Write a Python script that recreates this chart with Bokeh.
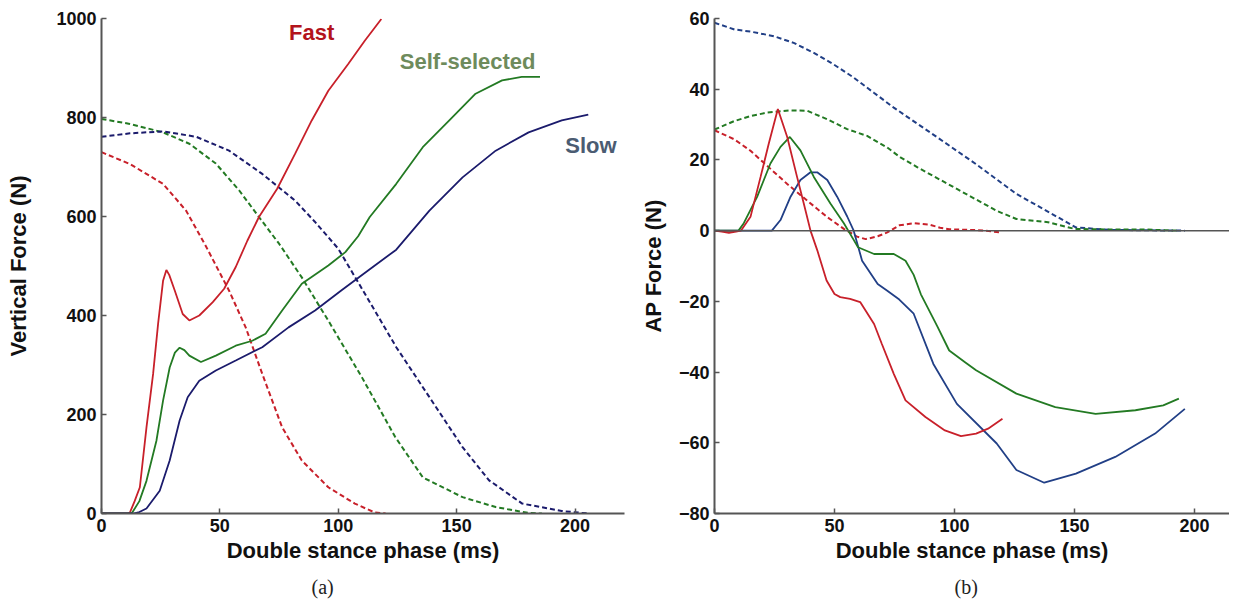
from bokeh.plotting import figure
from bokeh.layouts import row
from bokeh.models import Range1d, Label, Span, FixedTicker, Title
from bokeh.embed import file_html
from bokeh.resources import INLINE

# ---------------- Panel (a): vertical force ----------------
fast_v_t = [0, 11, 12, 14, 16.2, 19, 21.8, 23.9, 26, 27.4, 28.6, 30.9, 34.3, 37.1, 41.3, 47, 51.8, 56.7,
            61.6, 66.5, 74.2, 81.8, 88.8, 95.8, 104.2, 111.2, 118.2]
fast_v_f = [0, 0, 2, 25, 53, 174, 282, 383, 470, 492, 482, 451, 403, 390, 400, 427, 454, 498,
            551, 599, 656, 727, 794, 854, 908, 955, 999]

self_v_t = [0, 12, 13, 16, 19, 23.2, 26, 28.8, 31, 33, 35, 37.1, 42, 48.3, 56.7, 63.7, 69.3, 76.3,
            84.6, 95.8, 103, 108.4, 113.3, 124.5, 135.7, 146.9, 158, 169.2, 177.5, 185.2]
self_v_f = [0, 0, 2, 25, 66, 147, 228, 295, 325, 335, 330, 319, 306, 319, 339, 349, 363, 410,
            464, 501, 528, 560, 599, 666, 740, 794, 848, 875, 882, 882]

slow_v_t = [0, 13.4, 16, 19, 24.6, 28.8, 33, 36.4, 41.3, 48.3, 56.7, 67.9, 79, 90.2, 101.4, 112.6,
            124.5, 138.5, 152.5, 166.5, 180.4, 194.4, 205.6]
slow_v_f = [0, 0, 3, 10, 46, 107, 188, 235, 268, 289, 309, 336, 376, 410, 451, 491,
            533, 612, 679, 733, 770, 794, 806]

fast_v2_t = [0, 12, 26, 35.7, 44.1, 53.9, 60.9, 67.9, 76.3, 84.6, 95.8, 107, 115.4, 120]
fast_v2_f = [730, 706, 666, 612, 540, 450, 376, 282, 174, 107, 53, 20, 2, 0]

self_v2_t = [0, 12, 26, 37.1, 48.3, 58.1, 66.5, 75, 84.6, 96, 110, 124, 135.7, 152.5, 166.5, 180.4, 186]
self_v2_f = [797, 787, 770, 747, 707, 653, 599, 545, 477, 388, 275, 155, 73, 33, 13, 1, 0]

slow_v2_t = [0, 12, 26, 40, 53.9, 67.9, 81.8, 90, 100, 110.5, 124.5, 138.5, 152.5, 163.7, 177.7, 194.4, 205.6]
slow_v2_f = [761, 768, 772, 761, 733, 686, 632, 590, 535, 450, 336, 235, 134, 67, 20, 5, 0]

# ---------------- Panel (b): AP force ----------------
fast_ap_t = [0, 3, 6, 9, 11, 15, 19.2, 22.6, 26.4, 30.3, 34.4, 37.2, 40, 42.8, 46.7, 50, 52.4, 56.5,
             60.7, 66.5, 69.7, 74.7, 79.6, 87.9, 96, 102.7, 109, 114, 120]
fast_ap_f = [0, -0.3, -0.6, -0.3, 0, 3.9, 15.2, 24.6, 34.4, 26.5, 15.2, 7.7, 0, -5.5, -14.1, -17.9, -18.8, -19.3,
             -20.2, -26.4, -32, -40.5, -48, -52.7, -56.5, -58.1, -57.4, -56, -53.2]

self_ap_t = [0, 10, 12.2, 17.8, 23.3, 27.5, 31.4, 35.8, 41.4, 48.3, 53.9, 58, 59.8, 66.5, 74.7, 79.6,
             83, 86, 89, 92.8, 97.8, 104.4, 109, 125.8, 142, 158.8, 175.4, 187, 193.5]
self_ap_f = [0, 0, 2.1, 9.6, 19, 23.7, 26.5, 22.7, 15.2, 7.7, 2.1, -2.6, -4.7, -6.6, -6.6, -8.5,
             -12.5, -18, -22, -27, -33.9, -37.2, -39.5, -46.1, -49.9, -51.8, -50.8, -49.4, -47.5]

slow_ap_t = [0, 23.9, 27.5, 31.7, 35.8, 40, 42.8, 47, 51.1, 55.3, 58, 61.5, 68, 72, 77, 83, 91.2, 101,
             117.6, 125.8, 137.4, 150.6, 167, 183.6, 196]
slow_ap_f = [0, 0, 3, 9.6, 14.3, 16.5, 16.5, 14.3, 9.6, 4, 0, -8.5, -15.1, -17, -19.5, -23.5, -37.7, -49,
             -60.2, -67.7, -71.3, -68.7, -64, -57.4, -50.4]

fast_ap2_t = [0, 8.3, 15, 22, 30.3, 38.6, 47, 53.9, 59.4, 63, 68, 72, 77, 83, 89.6, 94, 97.8, 107, 113, 119]
fast_ap2_f = [28.4, 25.8, 22.6, 18.3, 13.2, 8.5, 3.8, 0.5, -1.7, -2.4, -1.6, -0.5, 1.5, 2.1, 1.7, 0.8, 0.4, 0.2, 0, -0.5]

self_ap2_t = [0, 8.3, 15, 22, 31.7, 38.6, 47, 55.3, 63.6, 72, 77.5, 84.6, 101, 117.6, 125.8, 139, 150,
              165, 180, 193]
self_ap2_f = [28.6, 31, 32.4, 33.4, 34, 33.9, 31.5, 28.7, 26.8, 23.5, 20.7, 17.9, 11.8, 5.6, 3.3, 2.4, 0.5,
              0.3, 0.3, 0]

slow_ap2_t = [0, 8.3, 15, 24.7, 33, 41.4, 49.7, 58, 66.4, 74.7, 92.8, 109, 125.8, 142, 150.6, 165, 180, 196]
slow_ap2_f = [58.8, 56.9, 56.3, 55, 53.1, 50.3, 47, 43.3, 39, 34.8, 26.4, 18.8, 10.4, 4.2, 0.9, 0.2, 0.1, 0]

x_ticks = [0, 50, 100, 150, 200]
v_ticks = [0, 200, 400, 600, 800, 1000]
ap_ticks = [-80, -60, -40, -20, 0, 20, 40, 60]

RED = "#c8202a"
GREEN = "#237a23"
NAVY = "#1b1b6c"
BLUE = "#213f86"
AXIS = "#555555"
FONT = "Liberation Sans"


def style(p, xticks, yticks, ylabel, ystandoff):
    p.outline_line_color = None
    p.xgrid.grid_line_color = None
    p.ygrid.grid_line_color = None
    for ax in (p.xaxis[0], p.yaxis[0]):
        ax.axis_line_color = AXIS
        ax.axis_line_width = 2
        ax.major_tick_line_color = AXIS
        ax.major_tick_line_width = 1.5
        ax.major_tick_in = 5
        ax.major_tick_out = 0
        ax.minor_tick_line_color = None
        ax.major_label_text_font = FONT
        ax.major_label_text_font_style = "bold"
        ax.major_label_text_font_size = "18px"
        ax.major_label_text_color = "#111111"
        ax.axis_label_text_font = FONT
        ax.axis_label_text_font_style = "bold"
        ax.axis_label_text_font_size = "22px"
        ax.axis_label_text_color = "#111111"
    p.xaxis[0].ticker = FixedTicker(ticks=xticks)
    p.yaxis[0].ticker = FixedTicker(ticks=yticks)
    p.xaxis[0].axis_label = "Double stance phase (ms)"
    p.xaxis[0].major_label_standoff = 5
    p.xaxis[0].axis_label_standoff = 3
    p.yaxis[0].axis_label = ylabel
    p.yaxis[0].major_label_standoff = 5
    p.yaxis[0].axis_label_standoff = ystandoff


def caption(p, text, offset):
    p.add_layout(Title(text=text, align="left", offset=offset, standoff=16,
                       text_font="Liberation Serif", text_font_style="normal",
                       text_font_size="20px", text_color="#222222"), "below")


H = 605
p1 = figure(width=629, height=H, output_backend="svg", toolbar_location=None,
            x_range=Range1d(0, 220.9), y_range=Range1d(0, 1000),
            min_border_left=101, min_border_right=5, min_border_top=18, min_border_bottom=91)
style(p1, x_ticks, v_ticks, "Vertical Force (N)", 22)

p1.line(fast_v2_t, fast_v2_f, line_color=RED, line_width=2, line_dash="5 3")
p1.line(self_v2_t, self_v2_f, line_color=GREEN, line_width=2, line_dash="5 3")
p1.line(slow_v2_t, slow_v2_f, line_color=NAVY, line_width=2, line_dash="5 3")
p1.line(fast_v_t, fast_v_f, line_color=RED, line_width=1.8)
p1.line(self_v_t, self_v_f, line_color=GREEN, line_width=1.8)
p1.line(slow_v_t, slow_v_f, line_color=NAVY, line_width=1.8)

for txt, x, y, col in [("Fast", 79.2, 972, "#b3141c"),
                       ("Self-selected", 126.0, 913, "#6e8b5c"),
                       ("Slow", 195.9, 744, "#4b5c72")]:
    p1.add_layout(Label(x=x, y=y, text=txt, text_color=col, text_font=FONT,
                        text_font_style="bold", text_font_size="22px",
                        text_baseline="middle", text_align="left"))
caption(p1, "(a)", 210)

p2 = figure(width=600, height=H, output_backend="svg", toolbar_location=None,
            x_range=Range1d(0, 214.6), y_range=Range1d(-80, 60),
            min_border_left=85, min_border_right=0, min_border_top=18, min_border_bottom=91)
style(p2, x_ticks, ap_ticks, "AP Force (N)", 10)
p2.add_layout(Span(location=0, dimension="width", line_color=AXIS, line_width=1.5))

p2.line(slow_ap2_t, slow_ap2_f, line_color=BLUE, line_width=2, line_dash="5 3")
p2.line(self_ap2_t, self_ap2_f, line_color=GREEN, line_width=2, line_dash="5 3")
p2.line(fast_ap2_t, fast_ap2_f, line_color=RED, line_width=2, line_dash="5 3")
p2.line(slow_ap_t, slow_ap_f, line_color=BLUE, line_width=1.8)
p2.line(self_ap_t, self_ap_f, line_color=GREEN, line_width=1.8)
p2.line(fast_ap_t, fast_ap_f, line_color=RED, line_width=1.8)
caption(p2, "(b)", 240)

layout = row(p1, p2, spacing=0)
open("out.html", "w").write(file_html(layout, INLINE))
